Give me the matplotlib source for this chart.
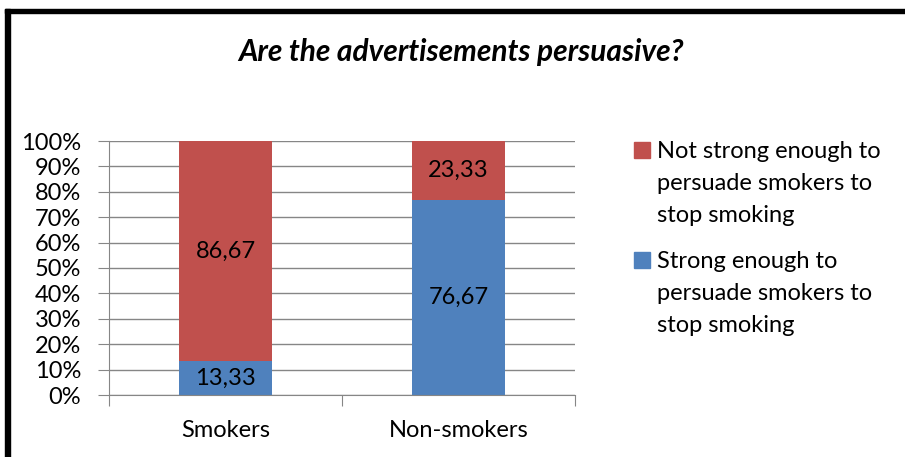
import matplotlib.pyplot as plt
from matplotlib.patches import Rectangle

plt.rcParams['font.family'] = ['Lato', 'DejaVu Sans']

groups = ['Smokers', 'Non-smokers']
strong = [13.33, 76.67]
not_strong = [86.67, 23.33]
yticks = [0, 10, 20, 30, 40, 50, 60, 70, 80, 90, 100]
lbl_strong = 'Strong enough to\npersuade smokers to\nstop smoking'
lbl_not = 'Not strong enough to\npersuade smokers to\nstop smoking'

red = '#C0504D'
blue = '#4F81BD'
grid = '#868686'
fs = 17

W, H = 905, 457
fig = plt.figure(figsize=(W / 100, H / 100), dpi=100)

# frame lines along the left and top edges
fig.patches.append(Rectangle((5 / W, 0), 5 / W, 1 - 9 / H, transform=fig.transFigure,
                             color='black', zorder=5))
fig.patches.append(Rectangle((5 / W, 1 - 13 / H), 1, 4 / H, transform=fig.transFigure,
                             color='black', zorder=5))

ax = fig.add_axes([109 / W, 62 / H, 466 / W, 254 / H])
x = range(len(groups))
b1 = ax.bar(x, strong, width=0.4, color=blue, zorder=3)
b2 = ax.bar(x, not_strong, bottom=strong, width=0.4, color=red, zorder=3)

fmt = lambda v: f'{v:.2f}'.replace('.', ',')
ax.bar_label(b1, labels=[fmt(v) for v in strong], label_type='center', fontsize=fs)
ax.bar_label(b2, labels=[fmt(v) for v in not_strong], label_type='center', fontsize=fs)

ax.set_xlim(-0.5, 1.5)
ax.set_ylim(0, 100)
ax.set_yticks(yticks)
ax.set_yticklabels([f'{t}%' for t in yticks], fontsize=fs)
ax.yaxis.grid(True, color=grid, linewidth=1)
ax.tick_params(axis='y', length=8, color=grid, pad=12)

# category ticks sit on the boundaries, labels in the middle
ax.set_xticks([-0.5, 0.5, 1.5])
ax.set_xticklabels([])
ax.set_xticks(list(x), minor=True)
ax.set_xticklabels(groups, minor=True, fontsize=fs)
ax.tick_params(axis='x', which='major', length=8, color=grid)
ax.tick_params(axis='x', which='minor', length=0, pad=18)

for s in ['top', 'right']:
    ax.spines[s].set_visible(False)
ax.spines['left'].set_color(grid)
ax.spines['bottom'].set_color(grid)
ax.spines['left'].set_zorder(4)
ax.spines['bottom'].set_zorder(4)

fig.text(461 / W, 1 - 52 / H, 'Are the advertisements persuasive?', ha='center', va='center',
         fontsize=21.5, fontweight='bold', fontstyle='italic')

# legend: square beside the first line, wrapped text below
px = lambda v: v / W
py = lambda v: 1 - v / H
for color, label, top in [(red, lbl_not, 157.5), (blue, lbl_strong, 268)]:
    fig.patches.append(Rectangle((px(634), py(top)), 16 / W, 16 / H,
                                 transform=fig.transFigure, color=color))
    for i, line in enumerate(label.split('\n')):
        fig.text(px(657), py(top + 32 * i), line, ha='left', va='baseline', fontsize=fs)

fig.savefig('out.png', dpi=100, facecolor='white')
